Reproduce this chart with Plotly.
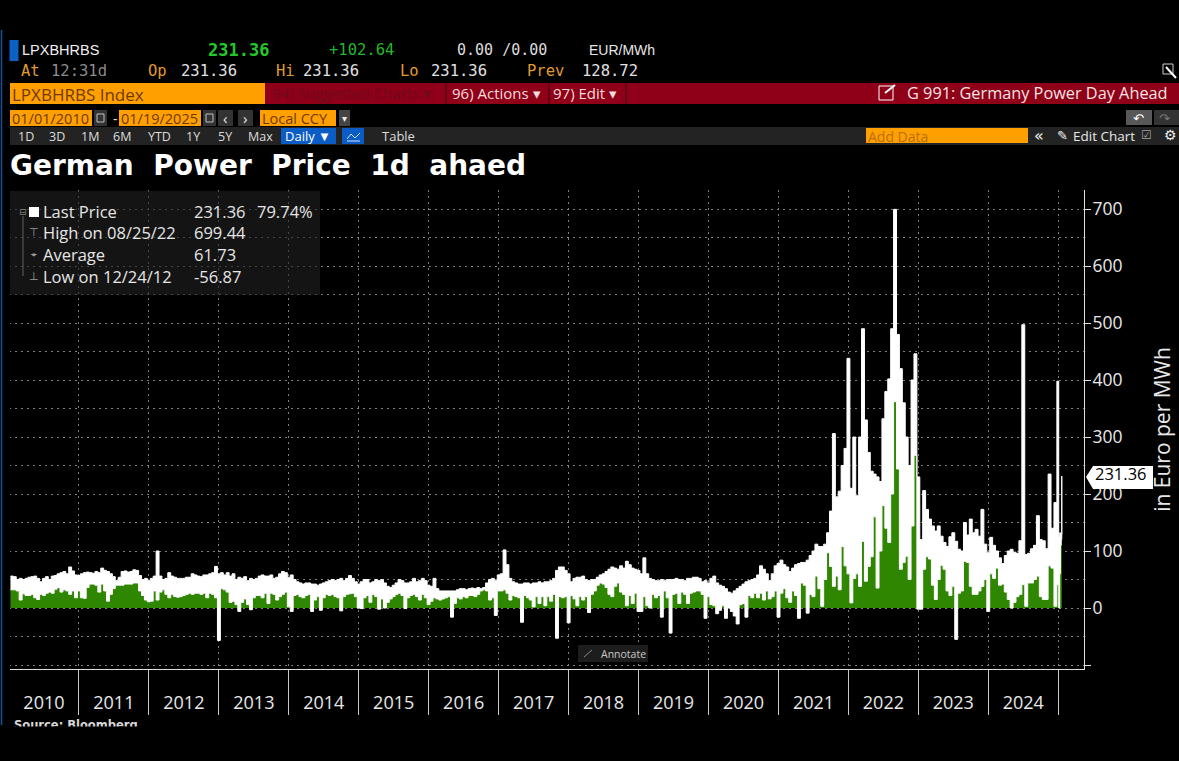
import pandas as pd
import plotly.graph_objects as go

# Half-monthly upper / lower readings of the daily price band (EUR/MWh)
upper_2010 = [56,55,50,52,50,52,54,55,56,52,46,52,55,50,56,57,60,62,64,60,72,65,58,57]
lower_2010 = [32,32,30,14,25,22,22,24,18,15,24,22,26,28,26,33,36,28,32,30,24,30,18,30]
upper_2011 = [60,62,63,62,61,64,62,70,66,64,60,55,48,54,64,65,63,64,67,66,57,50,52,48]
lower_2011 = [18,17,36,42,42,40,28,42,30,12,24,34,40,40,40,42,42,42,44,44,30,22,14,11]
upper_2012 = [52,56,100,56,50,52,62,56,54,52,52,52,54,54,60,58,56,55,58,58,60,62,73,60]
lower_2012 = [12,30,14,28,32,24,18,24,20,19,20,22,24,26,24,26,26,24,26,18,26,24,18,-56.87]
upper_2013 = [62,58,62,56,60,50,54,52,55,48,52,50,52,56,58,56,56,58,52,54,60,64,62,54]
lower_2013 = [34,32,28,10,12,6,-6,10,16,6,-3,18,22,22,18,26,8,26,24,14,20,24,28,2]
upper_2014 = [58,50,46,44,42,44,44,42,42,40,42,44,46,48,50,48,50,52,48,52,57,52,46,42]
lower_2014 = [-6,22,24,20,18,22,24,-6,14,20,-4,18,24,22,24,20,18,-5,20,24,25,26,20,0]
upper_2015 = [46,50,50,44,46,50,48,50,44,38,36,40,44,50,48,44,44,46,52,46,48,52,48,40]
lower_2015 = [-1,18,22,10,24,20,-2,16,0,10,16,20,24,26,22,-1,18,22,24,20,14,24,18,6]
upper_2016 = [38,52,34,30,30,30,30,30,30,32,34,34,32,34,35,34,36,34,36,44,50,52,48,58]
lower_2016 = [12,18,16,14,16,18,20,-16,8,18,16,20,18,22,22,20,24,30,32,30,14,18,-13,30]
upper_2017 = [60,102,76,52,46,44,42,42,44,44,42,44,44,46,44,46,46,48,52,66,72,72,66,60]
lower_2017 = [30,32,26,14,22,20,18,-25,22,18,14,2,20,8,20,4,20,12,24,-53,20,18,20,-26]
upper_2018 = [46,52,54,54,56,50,48,50,50,54,58,60,64,68,72,70,68,74,70,82,76,70,68,66]
lower_2018 = [22,16,4,20,14,20,-8,24,30,40,44,42,36,24,20,38,44,28,24,4,22,8,26,-6]
upper_2019 = [60,88,60,52,50,48,48,50,48,50,50,50,52,50,50,48,52,52,54,54,52,46,48,44]
lower_2019 = [-6,20,4,0,24,18,22,-16,30,18,-44,24,26,8,28,24,8,26,28,30,30,24,-18,20]
upper_2020 = [52,56,44,40,38,34,28,26,30,34,38,42,46,48,50,52,58,74,68,60,48,60,74,78]
lower_2020 = [6,4,-10,-4,4,-18,0,-6,-14,-28,6,8,-16,22,18,26,18,26,14,30,16,20,30,-16]
upper_2021 = [84,76,72,64,70,76,78,80,80,84,92,100,112,108,108,112,132,170,306,195,205,250,280,438]
lower_2021 = [26,34,18,10,30,22,-18,44,40,-9,24,20,56,34,3,50,97,73,38,56,32,108,74,60]
upper_2022 = [210,300,197,300,490,330,273,240,235,230,222,332,380,402,490,699.44,480,420,360,300,250,400,446,230]
lower_2022 = [9,52,60,38,117,47,73,90,160,35,100,180,140,115,200,362,244,68,80,91,50,144,268,-2]
upper_2023 = [120,206,173,156,144,135,144,126,115,108,125,132,117,103,100,150,128,156,132,138,126,173,112,97]
lower_2023 = [-2,68,90,86,40,15,50,75,68,30,22,38,-55,26,30,82,80,38,24,24,30,38,50,-6]
upper_2024 = [124,110,100,88,78,92,100,103,98,96,118,497,94,96,104,110,162,120,118,104,235,140,185,398]
lower_2024 = [60,52,70,40,42,28,15,0,10,20,24,41,3,44,44,50,56,20,15,15,74,70,3,41]
dates_2025 = ["2025-01-03", "2025-01-08", "2025-01-12", "2025-01-16", "2025-01-19"]
upper_2025 = [126, 132, 128, 128.72, 231.36]
lower_2025 = [0, 60, 110, 120, 231.36]

years = list(range(2010, 2025))
bands = {
    2010: (upper_2010, lower_2010), 2011: (upper_2011, lower_2011),
    2012: (upper_2012, lower_2012), 2013: (upper_2013, lower_2013),
    2014: (upper_2014, lower_2014), 2015: (upper_2015, lower_2015),
    2016: (upper_2016, lower_2016), 2017: (upper_2017, lower_2017),
    2018: (upper_2018, lower_2018), 2019: (upper_2019, lower_2019),
    2020: (upper_2020, lower_2020), 2021: (upper_2021, lower_2021),
    2022: (upper_2022, lower_2022), 2023: (upper_2023, lower_2023),
    2024: (upper_2024, lower_2024),
}
ytick_values = [-100, 0, 100, 200, 300, 400, 500, 600, 700]
ytick_labels = ["", "0", "100", "200", "300", "400", "500", "600", "700"]

dates, uppers, lowers = [], [], []
for yr in years:
    up, lo = bands[yr]
    start = pd.Timestamp(yr, 1, 1)
    span = (pd.Timestamp(yr + 1, 1, 1) - start).days
    for i, (u, l) in enumerate(zip(up, lo)):
        dates.append(start + pd.Timedelta(days=span * (i + 0.5) / 24))
        uppers.append(u)
        lowers.append(l)
dates += [pd.Timestamp(d) for d in dates_2025]
uppers += upper_2025
lowers += lower_2025
base = [max(v, 0) for v in lowers]

# layout
W, H = 1179, 761
L, R, T, B = 9, 1084, 190, 669
SANS, MONO, BOLD = "Open Sans", "DejaVu Sans Mono", "DejaVu Sans"


def px(x):
    return (x - L) / (R - L)


def py(y):
    return (B - y) / (B - T)


shapes, notes = [], []


def box(x0, y0, x1, y1, fill, line=None):
    shapes.append(dict(type="rect", xref="paper", yref="paper", x0=px(x0), x1=px(x1),
                       y0=py(y0), y1=py(y1), fillcolor=fill,
                       line=dict(width=1 if line else 0, color=line or fill)))


def seg(x0, y0, x1, y1, color, width=1):
    shapes.append(dict(type="line", xref="paper", yref="paper", x0=px(x0), x1=px(x1),
                       y0=py(y0), y1=py(y1), line=dict(color=color, width=width)))


def note(x, y, text, size=15, color="#e6e6e6", font=SANS, anchor="left", **kw):
    if anchor == "left":
        kw.setdefault("xshift", -2)
    notes.append(dict(xref="paper", yref="paper", x=px(x), y=py(y), text=text, showarrow=False,
                      xanchor=anchor, yanchor="middle",
                      font=dict(size=size, color=color, family=font), **kw))


ORANGE = "#ffa000"
RED = "#8f0018"
LABEL = "#e09a30"

# no grid line or tick at the chart's left edge
seg(9, 190, 9, 715, "#000000", 2)
seg(1.5, 30, 1.5, 725, "#1d4f96", 1.5)
# quote rows
box(9.5, 40, 18.5, 61, "#0b62c4")
note(22, 50, "LPXBHRBS", 14.5, "#f0f0f0", "Liberation Sans")
note(208, 50, "<b>231.36</b>", 17, "#22c82a", MONO)
note(329, 50, "+102.64", 15.5, "#22b82a", MONO)
note(457, 50, "0.00 /0.00", 15, "#dcdcdc", MONO)
note(589, 50, "EUR/MWh", 14, "#e6e6e6", "Liberation Sans")
note(21, 71, "At", 15.5, LABEL, MONO)
note(51, 71, "12:31d", 15.5, "#8c8c8c", MONO)
note(148, 71, "Op", 15.5, LABEL, MONO)
note(181, 71, "231.36", 15.5, "#e0e0e0", MONO)
note(276, 71, "Hi", 15.5, LABEL, MONO)
note(303, 71, "231.36", 15.5, "#e0e0e0", MONO)
note(400, 71, "Lo", 15.5, LABEL, MONO)
note(431, 71, "231.36", 15.5, "#e0e0e0", MONO)
note(527, 71, "Prev", 15.5, LABEL, MONO)
note(582, 71, "128.72", 15.5, "#e0e0e0", MONO)
# top-right pop-out icon
box(1163, 64, 1173, 74, "rgba(0,0,0,0)", "#d0d0d0")
seg(1166, 67, 1176, 78, "#ffffff", 2)
# red command bar
box(265, 83, 1179, 104, RED)
box(10, 83, 265, 104, ORANGE)
seg(446, 83, 446, 104, "#3a0008")
seg(549, 83, 549, 104, "#3a0008")
seg(626, 83, 626, 104, "#3a0008")
note(12, 94, "LPXBHRBS Index", 17, "#6e3a00", "Open Sans")
note(272, 93, "94) Suggested Charts ▾", 15, "#6d0a1c", "Open Sans")
note(452, 93, "96) Actions ▾", 15, "#f2dcdc", "Open Sans")
note(553, 93, "97) Edit ▾", 15, "#f2dcdc", "Open Sans")
box(879, 86, 893, 100, "rgba(0,0,0,0)", "#ffffff")
seg(885, 93, 895, 85, "#ffffff", 2)
note(907, 93, "G 991: Germany Power Day Ahead", 16.3, "#f4e4e4", "Open Sans")
# date row
box(10, 110, 92, 126, ORANGE)
box(119, 110, 201, 126, ORANGE)
box(260, 110, 336, 126, ORANGE)
box(94, 110, 107, 126, "#333333")
box(203, 110, 216, 126, "#333333")
box(218, 110, 233, 126, "#333333")
box(238, 110, 253, 126, "#333333")
box(339, 110, 350, 126, "#444444")
box(97, 114, 104, 122, "rgba(0,0,0,0)", "#c0c0c0")
box(206, 114, 213, 122, "rgba(0,0,0,0)", "#c0c0c0")
note(12, 118, "01/01/2010", 14.5, "#6e3a00", "Open Sans")
note(113, 118, "-", 14, "#e0e0e0", "Open Sans")
note(121, 118, "01/19/2025", 14.5, "#6e3a00", "Open Sans")
note(225, 118, "‹", 15, "#e8e8e8", "Open Sans", "center")
note(245, 118, "›", 15, "#e8e8e8", "Open Sans", "center")
note(262, 118, "Local CCY", 14.5, "#6e3a00", "Open Sans")
note(344, 118, "▾", 10, "#e8e8e8", "DejaVu Sans", "center")
box(1126, 110, 1152, 125, "#585858")
box(1154, 110, 1179, 125, "#333333")
note(1138, 118, "↶", 13, "#ffffff", "DejaVu Sans", "center")
note(1165, 118, "↷", 13, "#777777", "DejaVu Sans", "center")
# button row
box(10, 127, 1179, 145, "#232323")
box(281, 128, 336, 144, "#0b5cc4")
box(342, 128, 364, 144, "#0b5cc4")
for cx, lab in [(26, "1D"), (57, "3D"), (90, "1M"), (122, "6M"), (159, "YTD"),
                (193, "1Y"), (225, "5Y"), (260, "Max")]:
    note(cx, 136, lab, 12.5, "#dcdcdc", "Open Sans", "center")
note(308, 136, "Daily ▼", 13, "#ffffff", "Open Sans", "center")
seg(347, 139, 351, 134, "#d0e0ff")
seg(351, 134, 355, 138, "#d0e0ff")
seg(355, 138, 360, 133, "#d0e0ff")
seg(347, 141, 360, 141, "#d0e0ff")
note(398, 136, "Table", 13, "#dcdcdc", "Open Sans", "center")
box(866, 128, 1028, 143, ORANGE)
note(868, 136, "Add Data", 14, "#b9700c", "Open Sans")
note(1039, 135, "«", 16, "#f0f0f0", "DejaVu Sans", "center")
note(1062, 135, "✎", 13, "#f0f0f0", "DejaVu Sans", "center")
note(1073, 136, "Edit Chart", 13.5, "#e8e8e8", "Open Sans")
note(1146, 135, "☑", 12, "#a0a0a0", "DejaVu Sans", "center")
note(1170, 135, "⚙", 14, "#f0f0f0", "DejaVu Sans", "center")
# title
note(10, 166, "<b>German&nbsp;&nbsp;Power&nbsp;&nbsp;Price&nbsp;&nbsp;1d&nbsp;&nbsp;ahaed</b>", 28, "#ffffff", BOLD)
# stat panel
box(10, 191, 320, 295, "rgba(34,34,34,0.6)")
box(29, 207, 39, 217, "#ffffff")
seg(23, 216, 23, 276, "#606060")
note(23, 212, "⊟", 9, "#808080", "DejaVu Sans", "center")
note(34, 233, "⊤", 11, "#9a9a9a", "DejaVu Sans", "center")
note(34, 254, "⌖", 10, "#9a9a9a", "DejaVu Sans", "center")
note(34, 276, "⊥", 11, "#9a9a9a", "DejaVu Sans", "center")
note(43, 212, "Last Price", 16.5)
note(194, 212, "231.36", 16.5)
note(257, 212, "79.74%", 16.5)
note(43, 233, "High on 08/25/22", 16.5)
note(194, 233, "699.44", 16.5)
note(43, 254, "Average", 16.5)
note(194, 254, "61.73", 16.5)
note(43, 276, "Low on 12/24/12", 16.5)
note(194, 276, "-56.87", 16.5)
# annotate button
box(578, 645, 648, 662, "#1d1d1d")
seg(584, 657, 592, 650, "#888888")
note(601, 654, "Annotate", 10.5, "#c8c8c8")
# last price tag
shapes.append(dict(type="path", xref="paper", yref="paper",
                   path=f"M {px(1086)} {py(477)} L {px(1093)} {py(466)} L {px(1153)} {py(466)} "
                        f"L {px(1153)} {py(489)} L {px(1093)} {py(489)} Z",
                   fillcolor="#ffffff", line=dict(width=0)))
note(1095, 474, "231.36", 16.5, "#000000", height=17)
# cropped source line
note(14, 725, "<b>Source: Bloomberg</b>", 11.5, "#d8d8d8", BOLD)
notes.append(dict(xref="paper", yref="paper", x=px(0), y=py(726), xanchor="left", yanchor="top",
                  text=" ", showarrow=False, bgcolor="#000000", width=W, height=H - 726,
                  font=dict(size=10), borderpad=0))

fig = go.Figure()
fig.add_trace(go.Scatter(x=dates, y=base, mode="lines", line=dict(width=0, shape="hv"),
                         fill="tozeroy", fillcolor="#2f8600",
                         hoverinfo="skip", showlegend=False, name="Band floor"))
fig.add_trace(go.Scatter(x=dates, y=lowers, mode="lines", line=dict(color="#ffffff", width=1, shape="hv"),
                         hoverinfo="skip", showlegend=False, name="Low"))
fig.add_trace(go.Scatter(x=dates, y=uppers, mode="lines", line=dict(color="#ffffff", width=1, shape="hv"),
                         fill="tonexty", fillcolor="#ffffff",
                         hoverinfo="skip", showlegend=False, name="High"))
GRID = "#7e7e7e"
fig.update_layout(
    width=W, height=H, paper_bgcolor="#000000", plot_bgcolor="#000000",
    margin=dict(l=L, r=W - R, t=T, b=H - B), showlegend=False,
    font=dict(family=SANS, color="#e8e8e8"),
    shapes=shapes, annotations=notes,
    xaxis=dict(
        type="date", range=["2010-01-01", "2025-05-15"], tick0="2010-01-01", dtick="M12",
        ticklabelmode="period", tickformat="%Y", ticks="outside", ticklen=45, tickwidth=1,
        tickcolor="#c8c8c8", showline=True, linecolor="#e0e0e0", linewidth=1,
        showgrid=True, gridcolor=GRID, griddash="2px,4px", gridwidth=1, zeroline=False,
        tickfont=dict(size=18, color="#e8e8e8", family=SANS), ticklabelstandoff=-28,
    ),
    yaxis=dict(
        side="right", range=[-107, 733.4], tickmode="array", tickvals=ytick_values,
        ticktext=ytick_labels, ticks="outside", ticklen=6, tickwidth=1, tickcolor="#e0e0e0",
        showline=True, linecolor="#e0e0e0", linewidth=1, zeroline=False,
        showgrid=True, gridcolor=GRID, griddash="2px,4px", gridwidth=1,
        minor=dict(dtick=50, tick0=0, showgrid=True, gridcolor=GRID, griddash="2px,4px", ticks=""),
        tickfont=dict(size=17.5, color="#e8e8e8", family=SANS), ticklabelstandoff=-2,
        title=dict(text="in Euro per MWh", font=dict(size=21, color="#e8e8e8", family=SANS), standoff=33),
    ),
)
fig.write_html("out.html", config={"displayModeBar": False},
               post_script="document.body.style.margin='0';document.body.style.overflow='hidden';")
